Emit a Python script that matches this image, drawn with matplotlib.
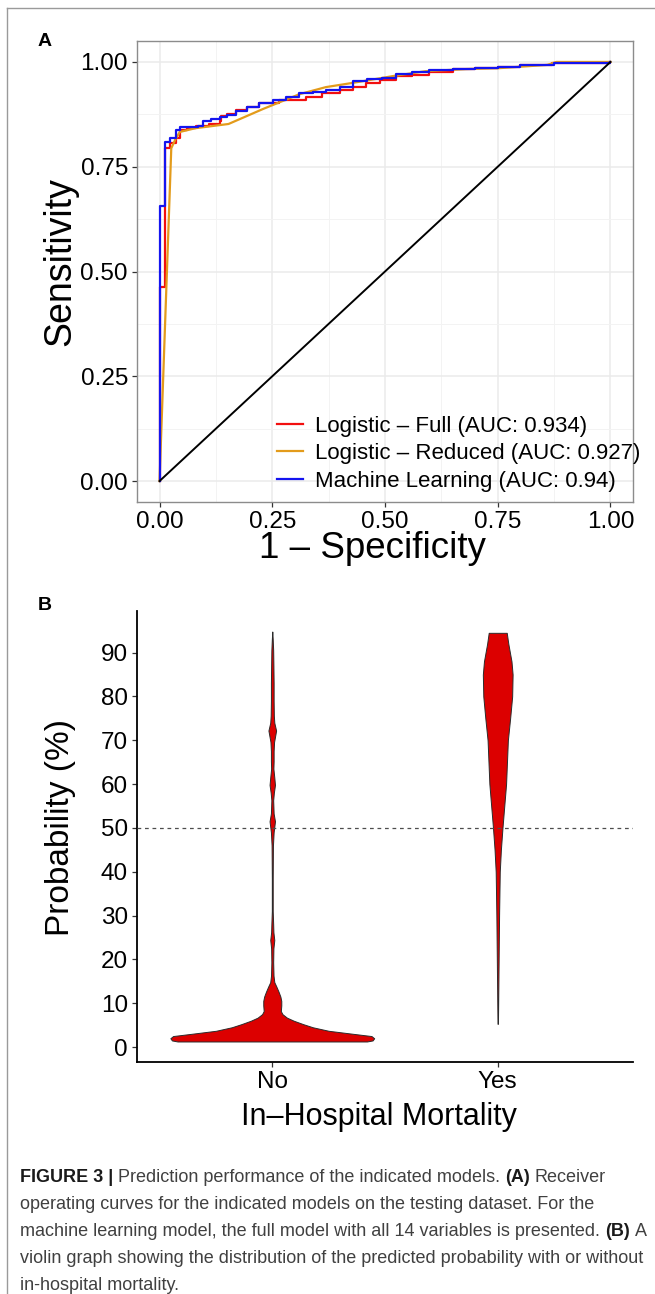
import matplotlib
matplotlib.use('Agg')
import matplotlib.pyplot as plt
from matplotlib import font_manager
from matplotlib.lines import Line2D
from matplotlib.ticker import FormatStrFormatter
import numpy as np

plt.rcParams['font.family'] = ['Liberation Sans', 'DejaVu Sans']

# panel A: ROC curves (1 - specificity, sensitivity)
full_fpr = [0, 0, 0.012, 0.024, 0.037, 0.045, 0.060, 0.080, 0.110, 0.133, 0.137, 0.150, 0.170,
            0.195, 0.221, 0.266, 0.325, 0.360, 0.400, 0.428, 0.457, 0.490, 0.524, 0.560, 0.597,
            0.650, 0.700, 0.750, 0.800, 0.870, 1.0]
full_tpr = [0, 0.464, 0.794, 0.806, 0.818, 0.838, 0.842, 0.846, 0.852, 0.858, 0.870, 0.876, 0.886,
            0.893, 0.902, 0.910, 0.916, 0.926, 0.933, 0.940, 0.950, 0.958, 0.966, 0.970, 0.977,
            0.982, 0.985, 0.988, 0.992, 0.997, 1.0]
reduced_fpr = [0, 0.026, 0.035, 0.045, 0.080, 0.153, 0.230, 0.310, 0.369, 0.428, 0.516, 0.590,
               0.680, 0.750, 0.860, 0.880, 1.0]
reduced_tpr = [0, 0.794, 0.815, 0.833, 0.842, 0.852, 0.888, 0.923, 0.940, 0.950, 0.966, 0.978,
               0.983, 0.985, 0.993, 1.0, 1.0]
ml_fpr = [0, 0, 0.012, 0.024, 0.037, 0.045, 0.085, 0.096, 0.115, 0.133, 0.150, 0.170, 0.195,
          0.221, 0.251, 0.280, 0.310, 0.340, 0.369, 0.400, 0.428, 0.460, 0.494, 0.524, 0.560,
          0.597, 0.650, 0.700, 0.750, 0.800, 0.875, 1.0]
ml_tpr = [0, 0.656, 0.810, 0.818, 0.838, 0.844, 0.848, 0.859, 0.863, 0.868, 0.874, 0.882, 0.893,
          0.903, 0.910, 0.917, 0.926, 0.929, 0.934, 0.941, 0.955, 0.959, 0.962, 0.972, 0.975,
          0.981, 0.984, 0.986, 0.989, 0.993, 0.998, 1.0]
roc_labels = ['Logistic – Full (AUC: 0.934)', 'Logistic – Reduced (AUC: 0.927)',
              'Machine Learning (AUC: 0.94)']
roc_colors = ['#F20F0F', '#E39B1B', '#1414F0']

# panel B: violin outlines, probability (%) vs half width (x units)
groups = ['No', 'Yes']
no_prob = [1.26, 1.5, 2.0, 2.5, 3.0, 3.7, 4.5, 5.2, 6.0, 6.7, 7.5, 8.2, 9.5, 10.5, 11.5, 12.6,
           13.8, 14.8, 16.3, 19.3, 22.5, 24.4, 26.2, 28, 31, 38.5, 46, 49, 51.5, 53.3, 56.3,
           58, 59.8, 61.5, 63.5, 65.2, 67.5, 69.6, 72.2, 74, 75.6, 79, 83, 87, 90.5, 93, 94.8]
no_halfwidth = [0.42, 0.445, 0.452, 0.44, 0.36, 0.25, 0.18, 0.138, 0.095, 0.065, 0.045, 0.038,
                0.040, 0.040, 0.036, 0.028, 0.018, 0.009, 0.0055, 0.004, 0.005, 0.009, 0.005,
                0.004, 0.002, 0.002, 0.003, 0.006, 0.012, 0.006, 0.004, 0.007, 0.012, 0.009,
                0.005, 0.006, 0.006, 0.008, 0.017, 0.009, 0.007, 0.006, 0.006, 0.005, 0.004,
                0.002, 0.0]
yes_prob = [5.3, 10, 20, 30, 40, 45, 50, 55, 60, 65, 70, 75, 80, 85, 88, 90, 92, 94.5]
yes_halfwidth = [0.001, 0.002, 0.004, 0.006, 0.009, 0.014, 0.021, 0.029, 0.037, 0.041, 0.045,
                 0.055, 0.064, 0.066, 0.061, 0.054, 0.047, 0.040]
cutoff = 50

caption_lines = [
    [('FIGURE 3 |', True), ('Prediction performance of the indicated models.', False),
     ('(A)', True), ('Receiver', False)],
    [('operating curves for the indicated models on the testing dataset. For the', False)],
    [('machine learning model, the full model with all 14 variables is presented.', False),
     ('(B)', True), ('A', False)],
    [('violin graph showing the distribution of the predicted probability with or without', False)],
    [('in-hospital mortality.', False)],
]

W, H = 655, 1294
fig = plt.figure(figsize=(W / 100, H / 100), dpi=100)


def px_axes(l, t, r, b):
    return fig.add_axes([l / W, 1 - b / H, (r - l) / W, (b - t) / H])


def px_text(x, y, s, **kw):
    return fig.text(x / W, 1 - y / H, s, **kw)


# ---------------- panel A ----------------
ax = px_axes(137, 41, 633, 502)
ax.plot(full_fpr, full_tpr, drawstyle='steps-post', color=roc_colors[0], lw=1.6, label=roc_labels[0])
ax.plot(reduced_fpr, reduced_tpr, color=roc_colors[1], lw=1.6, label=roc_labels[1])
ax.plot(ml_fpr, ml_tpr, drawstyle='steps-post', color=roc_colors[2], lw=1.6, label=roc_labels[2])
ax.plot([0, 1], [0, 1], color='black', lw=1.4)
ax.set_xlim(-0.05, 1.05)
ax.set_ylim(-0.05, 1.05)
ticks = np.arange(0, 1.01, 0.25)
ax.set_xticks(ticks)
ax.set_yticks(ticks)
ax.set_xticks(ticks[:-1] + 0.125, minor=True)
ax.set_yticks(ticks[:-1] + 0.125, minor=True)
ax.xaxis.set_major_formatter(FormatStrFormatter('%.2f'))
ax.yaxis.set_major_formatter(FormatStrFormatter('%.2f'))
ax.grid(which='major', color='#EBEBEB', lw=1.1)
ax.grid(which='minor', color='#F3F3F3', lw=0.7)
ax.set_axisbelow(True)
ax.tick_params(which='major', length=3.5, width=0.9, color='#333333', labelsize=17.5,
               labelcolor='black', pad=3)
ax.tick_params(which='minor', length=0)
for sp in ax.spines.values():
    sp.set_color('#8C8C8C')
    sp.set_linewidth(1.0)
ax.legend(loc='lower left', bbox_to_anchor=(0.283, 0.022), frameon=False, fontsize=16,
          handlelength=1.15, handletextpad=0.55, labelspacing=0.3, borderpad=0, borderaxespad=0)

px_text(60, 262, 'Sensitivity', fontsize=27, rotation=90, ha='center', va='center')
px_text(372, 549, '1 – Specificity', fontsize=26.5, ha='center', va='center')
px_text(45, 42, 'A', fontsize=14, fontweight='bold', ha='center', va='center')

# ---------------- panel B ----------------
bx = px_axes(137, 611, 633, 1062)
for i, (yy, hw) in enumerate([(no_prob, no_halfwidth), (yes_prob, yes_halfwidth)]):
    pos = i + 1
    hw = np.asarray(hw)
    bx.fill_betweenx(yy, pos - hw, pos + hw, facecolor='#DC0000', edgecolor='#2B2B2B', lw=0.7)
bx.axhline(cutoff, ls=(0, (3, 3)), color='#4D4D4D', lw=0.9, zorder=3)
bx.set_xlim(0.4, 2.6)
bx.set_ylim(-3.42, 99.48)
bx.set_xticks([1, 2], groups)
bx.set_yticks(range(0, 91, 10))
bx.spines['top'].set_visible(False)
bx.spines['right'].set_visible(False)
for side in ('left', 'bottom'):
    bx.spines[side].set_color('black')
    bx.spines[side].set_linewidth(1.3)
bx.tick_params(length=3.5, width=0.9, color='#333333', labelsize=17.5, labelcolor='black', pad=3)

px_text(60, 828, 'Probability (%)', fontsize=24, rotation=90, ha='center', va='center')
px_text(379, 1117, 'In–Hospital Mortality', fontsize=22, ha='center', va='center')
px_text(45, 605, 'B', fontsize=14, fontweight='bold', ha='center', va='center')

# frame of the figure page
fig.add_artist(Line2D([7 / W, 1], [1 - 8 / H, 1 - 8 / H], transform=fig.transFigure,
                      color='#9A9A9A', lw=1.0))
fig.add_artist(Line2D([7 / W, 7 / W], [0, 1 - 8 / H], transform=fig.transFigure,
                      color='#9A9A9A', lw=1.0))

# ---------------- caption ----------------
names = {f.name for f in font_manager.fontManager.ttflist}
cap_family = 'Liberation Sans Narrow' if 'Liberation Sans Narrow' in names else 'Liberation Sans'
renderer = fig.canvas.get_renderer()


def text_width(s, size, bold=False):
    t = px_text(0, 0, s, fontsize=size, family=cap_family, fontweight='bold' if bold else 'normal')
    w = t.get_window_extent(renderer).width
    t.remove()
    return w


cap_size = 10 * 622 / text_width(caption_lines[3][0][0], 10)
space = text_width('a a', cap_size) - text_width('aa', cap_size)
for k, segs in enumerate(caption_lines):
    x = 20
    y = 1178 + 26.8 * k
    for s, bold in segs:
        t = px_text(x, y, s, fontsize=cap_size, family=cap_family, va='center',
                    fontweight='bold' if bold else 'normal',
                    color='#1A1A1A' if bold else '#404040')
        x += t.get_window_extent(renderer).width + space

fig.savefig('out.png', dpi=100)
